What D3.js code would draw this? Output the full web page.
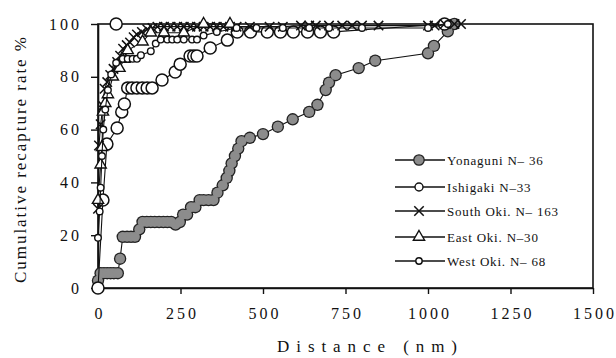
<!DOCTYPE html>
<html>
<head>
<meta charset="utf-8">
<script src="https://cdn.jsdelivr.net/npm/d3@7"></script>
<style>
  body { margin: 0; background: #fff; }
  svg text { font-family: "Liberation Serif", "Times New Roman", "DejaVu Serif", "Noto Serif", serif; fill: #111; }
</style>
</head>
<body>
<div id="chart"></div>
<script>
// distance (nm), cumulative recapture rate (%)
var yonaguni = [[0,2.8],[8,5.6],[18,5.6],[28,5.6],[38,5.6],[48,5.6],[60,5.6],[67,11.1],[75,19.4],[88,19.4],
  [100,19.4],[112,19.4],[125,22.2],[135,25],[148,25],[160,25],[172,25],[185,25],[198,25],[210,25],[222,25],
  [235,24],[248,25],[258,27.8],[270,27.8],[282,30.6],[295,30.6],[308,33.3],[320,33.3],[335,33.3],[350,33.3],
  [362,36.1],[378,38.9],[390,41.7],[398,44.4],[405,47.2],[415,50],[425,52.8],[435,55.6],[460,56.9],[500,58.3],
  [545,61.1],[590,63.9],[640,66.7],[665,69.4],[690,75],[700,77.8],[720,80.6],[790,83.3],[840,86.1],[1000,88.9],
  [1018,91.7],[1060,97.2],[1080,100]];
var ishigaki = [[0,0],[15,33.3],[27,54.5],[58,60.6],[72,66.7],[80,69.7],[90,75.8],[103,75.8],[118,75.8],
  [134,75.8],[149,75.8],[164,75.8],[194,78.8],[234,81.8],[249,84.8],[279,87.9],[290,87.9],[300,87.9],
  [340,90.9],[392,93.9],[422,97],[462,97],[513,97],[553,97],[592,97],[635,97],[674,97],[714,97],[1050,100]];
var ishigakiExtra = [[55,100]];
var southOki = [[0,30],[3,54],[8,62],[15,69],[20,75.5],[28,78],[37,80.7],[47,83],[58,85.6],[67,88],[76,90.6],
  [87,92],[97,93],[108,95],[118,96],[133,97],[149,98],[165,98.5],[180,99],[200,99],[220,99],[240,99],[260,99],
  [280,99],[300,99],[320,99],[340,99],[360,99],[380,99],[400,99],[420,99],[460,99],[520,99],[560,99],[615,99.4],
  [640,99.4],[660,99.4],[700,99.4],[740,99.4],[770,99.4],[800,99.4],[850,99.4],[1000,99.4],[1020,99.4],
  [1050,100],[1080,100],[1100,100]];
var eastOki = [[0,33.3],[8,46.7],[12,53.3],[15,66.7],[22,70],[30,73.3],[45,80],[65,83.3],[80,86.7],[90,90],
  [135,93.3],[160,96.7],[200,96.7],[260,96.7],[320,100],[400,100]];
var westOki = [[0,19],[5,29],[8,38],[12,50],[16,60],[22,67.6],[30,75],[40,80.9],[55,85.3],[75,86.8],[90,86.8],
  [105,86.8],[118,86.8],[130,88.2],[160,89.7],[175,92.6],[190,94.1],[210,94.1],[225,94.1],[240,94.1],
  [260,94.1],[285,94.1],[300,94.1],[320,95.6],[360,97],[420,98.5],[480,98.5],[560,98.5],[640,98.5],[700,98.5],
  [800,98.5],[1000,98.5],[1060,100]];

var seriesNames = ['Yonaguni N\u2013 36', 'Ishigaki N\u201333', 'South Oki. N\u2013 163', 'East Oki. N\u201330', 'West Oki. N\u2013 68'];
var xTicks = [0, 250, 500, 750, 1000, 1250, 1500];
var yTicks = [0, 20, 40, 60, 80, 100];

var width = 616, height = 358;
var x = d3.scaleLinear().domain([0, 1500]).range([98, 593]);
var y = d3.scaleLinear().domain([0, 100]).range([288, 24]);
var serif = '"Liberation Serif", "Times New Roman", "DejaVu Serif", "Noto Serif", serif';

var svg = d3.select('#chart').append('svg')
  .attr('width', width).attr('height', height)
  .attr('font-family', serif);

// frame
svg.append('rect')
  .attr('x', x(0)).attr('y', y(100))
  .attr('width', x(1500) - x(0)).attr('height', y(0) - y(100))
  .attr('fill', 'none').attr('stroke', '#111').attr('stroke-width', 1.6);

var xAxis = svg.append('g')
  .attr('transform', 'translate(0,' + y(0) + ')')
  .call(d3.axisBottom(x).tickValues(xTicks).tickFormat(d3.format('d'))
    .tickSize(6).tickSizeOuter(0).tickPadding(14));
var yAxis = svg.append('g')
  .attr('transform', 'translate(' + x(0) + ',0)')
  .call(d3.axisLeft(y).tickValues(yTicks).tickFormat(d3.format('d'))
    .tickSize(7).tickSizeOuter(0).tickPadding(12));

[xAxis, yAxis].forEach(function (g) {
  g.attr('font-family', serif);
  g.select('.domain').attr('stroke', '#111').attr('stroke-width', 1.6);
  g.selectAll('.tick line').attr('stroke', '#111').attr('stroke-width', 1.4);
  g.selectAll('.tick text')
    .style('font-size', '16px')
    .style('letter-spacing', '3px')
    .attr('fill', '#111');
});
yAxis.selectAll('.tick text').attr('dx', '3px');
xAxis.selectAll('.tick text').attr('dx', '1.5px');

var line = d3.line().x(function (d) { return x(d[0]); }).y(function (d) { return y(d[1]); });

function drawLine(data) {
  svg.append('path').datum(data)
    .attr('d', line).attr('fill', 'none')
    .attr('stroke', '#111').attr('stroke-width', 1.1);
}

// Yonaguni: grey dots, outline layer under fill layer
drawLine(yonaguni);
var yg = svg.append('g');
yg.selectAll('circle.o').data(yonaguni).enter().append('circle')
  .attr('cx', function (d) { return x(d[0]); }).attr('cy', function (d) { return y(d[1]); })
  .attr('r', 6.2).attr('fill', '#222');
yg.selectAll('circle.f').data(yonaguni).enter().append('circle')
  .attr('cx', function (d) { return x(d[0]); }).attr('cy', function (d) { return y(d[1]); })
  .attr('r', 4.9).attr('fill', '#8c8c8c');

// Ishigaki: open circles
drawLine(ishigaki);
svg.append('g').selectAll('circle').data(ishigaki.concat(ishigakiExtra)).enter().append('circle')
  .attr('cx', function (d) { return x(d[0]); }).attr('cy', function (d) { return y(d[1]); })
  .attr('r', 6).attr('fill', '#fff').attr('stroke', '#111').attr('stroke-width', 1.5);

// South Oki: crosses
drawLine(southOki);
var cross = d3.symbol().type(d3.symbolX).size(60);
svg.append('g').selectAll('path').data(southOki).enter().append('path')
  .attr('transform', function (d) { return 'translate(' + x(d[0]) + ',' + y(d[1]) + ')'; })
  .attr('d', cross).attr('fill', 'none').attr('stroke', '#111').attr('stroke-width', 1.5);

// East Oki: open triangles
drawLine(eastOki);
var tri = d3.symbol().type(d3.symbolTriangle).size(55);
svg.append('g').selectAll('path').data(eastOki).enter().append('path')
  .attr('transform', function (d) { return 'translate(' + x(d[0]) + ',' + y(d[1]) + ')'; })
  .attr('d', tri).attr('fill', '#fff').attr('stroke', '#111').attr('stroke-width', 1.4);

// West Oki: small open dots
drawLine(westOki);
svg.append('g').selectAll('circle').data(westOki).enter().append('circle')
  .attr('cx', function (d) { return x(d[0]); }).attr('cy', function (d) { return y(d[1]); })
  .attr('r', 3.3).attr('fill', '#fff').attr('stroke', '#111').attr('stroke-width', 1.4);

// legend
var legendY = [160, 187, 211, 237, 261];
var lg = svg.append('g');
seriesNames.forEach(function (name, i) {
  var ly = legendY[i];
  lg.append('line').attr('x1', 395).attr('x2', 445).attr('y1', ly).attr('y2', ly)
    .attr('stroke', '#111').attr('stroke-width', 1.6);
  var mx = 419;
  if (i === 0) {
    lg.append('circle').attr('cx', mx).attr('cy', ly).attr('r', 5.2)
      .attr('fill', '#8c8c8c').attr('stroke', '#222').attr('stroke-width', 1.3);
  } else if (i === 1) {
    lg.append('circle').attr('cx', mx).attr('cy', ly).attr('r', 4)
      .attr('fill', '#fff').attr('stroke', '#111').attr('stroke-width', 1.4);
  } else if (i === 2) {
    lg.append('path').attr('transform', 'translate(' + mx + ',' + ly + ')')
      .attr('d', cross).attr('fill', 'none').attr('stroke', '#111').attr('stroke-width', 1.5);
  } else if (i === 3) {
    lg.append('path').attr('transform', 'translate(' + mx + ',' + ly + ')')
      .attr('d', tri).attr('fill', '#fff').attr('stroke', '#111').attr('stroke-width', 1.4);
  } else {
    lg.append('circle').attr('cx', mx).attr('cy', ly).attr('r', 3.2)
      .attr('fill', '#fff').attr('stroke', '#111').attr('stroke-width', 1.4);
  }
  lg.append('text').attr('x', 447).attr('y', ly + 4.5)
    .style('font-size', '13px').style('letter-spacing', '0.8px')
    .text(name);
});

// axis titles
svg.append('text')
  .attr('x', 367).attr('y', 352)
  .attr('text-anchor', 'middle')
  .attr('textLength', 180).attr('lengthAdjust', 'spacing')
  .style('font-size', '17px')
  .text('Distance (nm)');

svg.append('text')
  .attr('transform', 'translate(26,160) rotate(-90)')
  .attr('text-anchor', 'middle')
  .attr('textLength', 246).attr('lengthAdjust', 'spacing')
  .style('font-size', '17px')
  .text('Cumulative recapture rate %');
</script>
</body>
</html>
